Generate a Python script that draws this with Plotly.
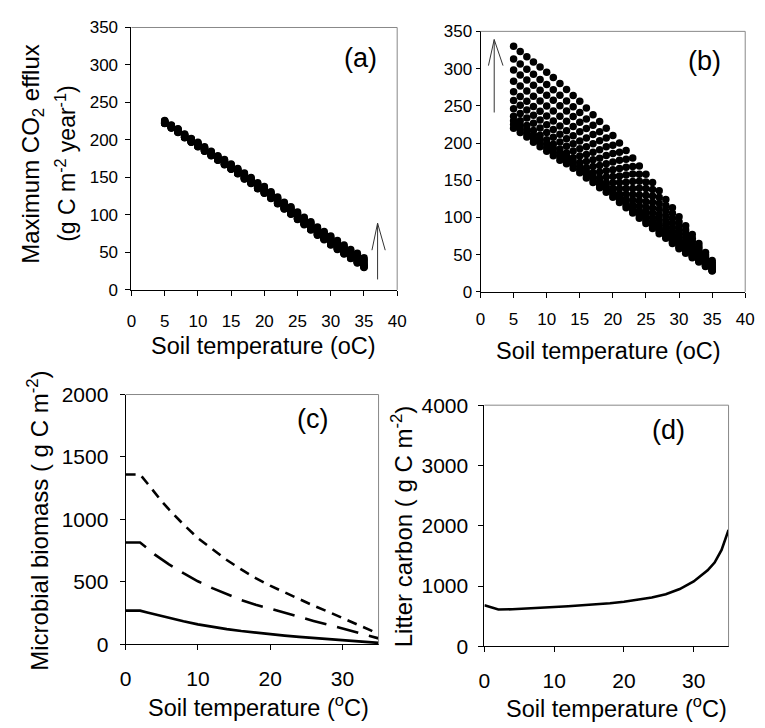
import plotly.graph_objects as go

# ---------------- data ----------------
temps = list(range(5, 36))  # soil temperature, panels (a) and (b)

# panel (a): lower / upper envelope of each column of dots
a_low = [222, 216, 210, 203, 197, 191, 185, 179, 173, 167, 161, 155, 148, 142, 135, 129,
         122, 115, 108, 101, 94, 87, 80, 73, 67, 60, 54, 48, 42, 36, 30]
a_high = [226, 220, 215, 208, 202, 197, 191, 185, 179, 174, 168, 162, 156, 150, 143, 138,
          131, 124, 117, 111, 104, 97, 91, 84, 78, 72, 66, 60, 54, 49, 43]

# panel (b): lower / upper envelope of each column of dots
b_low = [220, 214, 208, 201, 195, 189, 183, 177, 172, 166, 160, 153, 147, 140, 134, 127,
         120, 113, 106, 99, 92, 85, 78, 72, 65, 58, 52, 46, 40, 34, 28]
b_high = [330, 323, 316, 309, 302, 295, 288, 280, 272, 264, 256, 247, 238, 229, 220, 210,
          200, 190, 180, 169, 158, 147, 136, 124, 113, 101, 89, 77, 65, 53, 42]

# relative position of the parameter levels inside each column (read from the x=5 column of b)
levels = [0.0, 0.045, 0.091, 0.145, 0.236, 0.336, 0.445, 0.573, 0.709, 0.845, 1.0]

# panel (c): microbial biomass
c_x = [0, 1, 2, 3, 4, 5, 6, 8, 10, 12, 14, 16, 18, 20, 22, 24, 26, 28, 30, 32, 34, 35]
c_solid = [270, 270, 270, 255, 240, 225, 212, 185, 160, 140, 122, 107, 93, 81, 70, 60,
           51, 43, 35, 27, 18, 12]
c_long = [815, 815, 815, 770, 720, 680, 640, 570, 505, 450, 400, 355, 318, 284, 250, 218,
          188, 158, 125, 95, 65, 48]
c_short = [1360, 1360, 1360, 1290, 1215, 1145, 1080, 960, 850, 760, 675, 600, 530, 470,
           415, 360, 310, 262, 212, 165, 110, 80]

# panel (d): litter carbon
d_x = [0, 1, 2, 4, 6, 8, 10, 12, 14, 16, 18, 20, 22, 24, 26, 28, 30, 31, 32, 33, 34, 35]
d_y = [680, 645, 610, 615, 625, 640, 655, 665, 680, 695, 715, 740, 770, 810, 865, 950,
       1075, 1160, 1260, 1390, 1600, 1930]


def grid(low, high):
    xs, ys = [], []
    for t, lo, hi in zip(temps, low, high):
        for f in levels:
            xs.append(t)
            ys.append(lo + f * (hi - lo))
    return xs, ys


ax_, ay_ = grid(a_low, a_high)
bx_, by_ = grid(b_low, b_high)

FONT = "Liberation Sans, Arial, sans-serif"
W, H = 765, 728

fig = go.Figure()
fig.add_trace(go.Scatter(x=ax_, y=ay_, mode="markers", xaxis="x", yaxis="y",
                         marker=dict(color="black", size=7.5, line=dict(width=0))))
fig.add_trace(go.Scatter(x=bx_, y=by_, mode="markers", xaxis="x2", yaxis="y2",
                         marker=dict(color="black", size=7.5, line=dict(width=0))))
fig.add_trace(go.Scatter(x=c_x, y=c_short, mode="lines", xaxis="x3", yaxis="y3",
                         line=dict(color="black", width=2.6, dash="10px,7px")))
fig.add_trace(go.Scatter(x=c_x, y=c_long, mode="lines", xaxis="x3", yaxis="y3",
                         line=dict(color="black", width=2.6, dash="22px,11px")))
fig.add_trace(go.Scatter(x=c_x, y=c_solid, mode="lines", xaxis="x3", yaxis="y3",
                         line=dict(color="black", width=2.6)))
fig.add_trace(go.Scatter(x=d_x, y=d_y, mode="lines", xaxis="x4", yaxis="y4",
                         line=dict(color="black", width=2.6)))


def px_dom(a, b):
    return [a / W, b / W]


def ydom(top, bottom):
    return [1 - bottom / H, 1 - top / H]


def axis(domain, rng, tickvals, anchor, fs, standoff, ticklen=5):
    return dict(domain=domain, range=rng, tickmode="array", tickvals=tickvals,
                anchor=anchor, showline=True, linecolor="black", linewidth=1,
                ticks="outside", ticklen=ticklen, tickcolor="black", showgrid=False,
                zeroline=False, tickfont=dict(size=fs, color="black", family=FONT),
                ticklabelstandoff=standoff)


fig.update_layout(
    width=W, height=H, autosize=False,
    margin=dict(l=0, r=0, t=0, b=0),
    paper_bgcolor="white", plot_bgcolor="white",
    showlegend=False,
    font=dict(family=FONT, color="black"),
    xaxis=axis(px_dom(128, 399), [0, 40], list(range(0, 41, 5)), "y", 17, 11),
    yaxis=axis(ydom(16, 287), [0, 350], list(range(0, 351, 50)), "x", 17, 4),
    xaxis2=axis(px_dom(484, 754), [0, 40], list(range(0, 41, 5)), "y2", 17, 7),
    yaxis2=axis(ydom(20, 289), [0, 350], list(range(0, 351, 50)), "x2", 17, 0, 4),
    xaxis3=axis(px_dom(122, 380), [0, 35], [0, 10, 20, 30], "y3", 21, 10),
    yaxis3=axis(ydom(395, 653), [0, 2000], list(range(0, 2001, 500)), "x3", 21, 7),
    xaxis4=axis(px_dom(488, 737), [0, 35], [0, 10, 20, 30], "y4", 21, 10),
    yaxis4=axis(ydom(406, 655), [0, 4000], list(range(0, 4001, 1000)), "x4", 21, 6),
)

# gray top/right frame of each panel
shapes = []
for xr, yr in [("x", "y"), ("x2", "y2"), ("x3", "y3"), ("x4", "y4")]:
    shapes.append(dict(type="line", xref=f"{xr} domain", yref=f"{yr} domain",
                       x0=0, x1=1, y0=1, y1=1, line=dict(color="#888888", width=1)))
    shapes.append(dict(type="line", xref=f"{xr} domain", yref=f"{yr} domain",
                       x0=1, x1=1, y0=0, y1=1, line=dict(color="#888888", width=1)))

# open arrows in (a) and (b)
arrow_col = "#333333"
shapes += [
    dict(type="line", xref="x", yref="y", x0=37.05, x1=37.05, y0=14, y1=89, line=dict(color=arrow_col, width=1)),
    dict(type="line", xref="x", yref="y", x0=36.2, x1=37.05, y0=53, y1=89, line=dict(color=arrow_col, width=1)),
    dict(type="line", xref="x", yref="y", x0=38.2, x1=37.05, y0=53, y1=89, line=dict(color=arrow_col, width=1)),
    dict(type="line", xref="x2", yref="y2", x0=2.07, x1=2.07, y0=241, y1=339, line=dict(color=arrow_col, width=1)),
    dict(type="line", xref="x2", yref="y2", x0=1.2, x1=2.07, y0=304, y1=339, line=dict(color=arrow_col, width=1)),
    dict(type="line", xref="x2", yref="y2", x0=3.4, x1=2.07, y0=304, y1=339, line=dict(color=arrow_col, width=1)),
]
fig.update_layout(shapes=shapes)


def ann(text, px, py, size, angle=0):
    return dict(text=text, xref="paper", yref="paper", x=px / W, y=1 - py / H,
                xanchor="center", yanchor="middle", showarrow=False, textangle=angle,
                font=dict(size=size, family=FONT, color="black"))


annotations = [
    ann("(a)", 362, 48, 27),
    ann("(b)", 712, 51, 27),
    ann("(c)", 313, 420, 27),
    ann("(d)", 676, 432, 27),
    ann("Soil temperature (oC)", 263, 345, 23.5),
    ann("Soil temperature (oC)", 615, 350, 23.5),
    ann("Soil temperature (<sup>o</sup>C)", 258, 717, 23.5),
    ann("Soil temperature (<sup>o</sup>C)", 623, 718, 23.5),
    ann("Maximum CO<sub>2</sub> efflux", 27, 146, 24, -90),
    ann("(g C m<sup>-2</sup> year<sup>-1</sup>)", 61, 157, 23, -90),
    ann("Microbial biomass ( g C m<sup>-2</sup>)", 33, 525, 24, -90),
    ann("Litter carbon ( g C m<sup>-2</sup>)", 404, 531, 24, -90),
]
fig.update_layout(annotations=annotations)

fig.write_html(
    "out.html",
    config={"displayModeBar": False},
    post_script="document.body.style.margin='0px';document.body.style.padding='0px';",
)
